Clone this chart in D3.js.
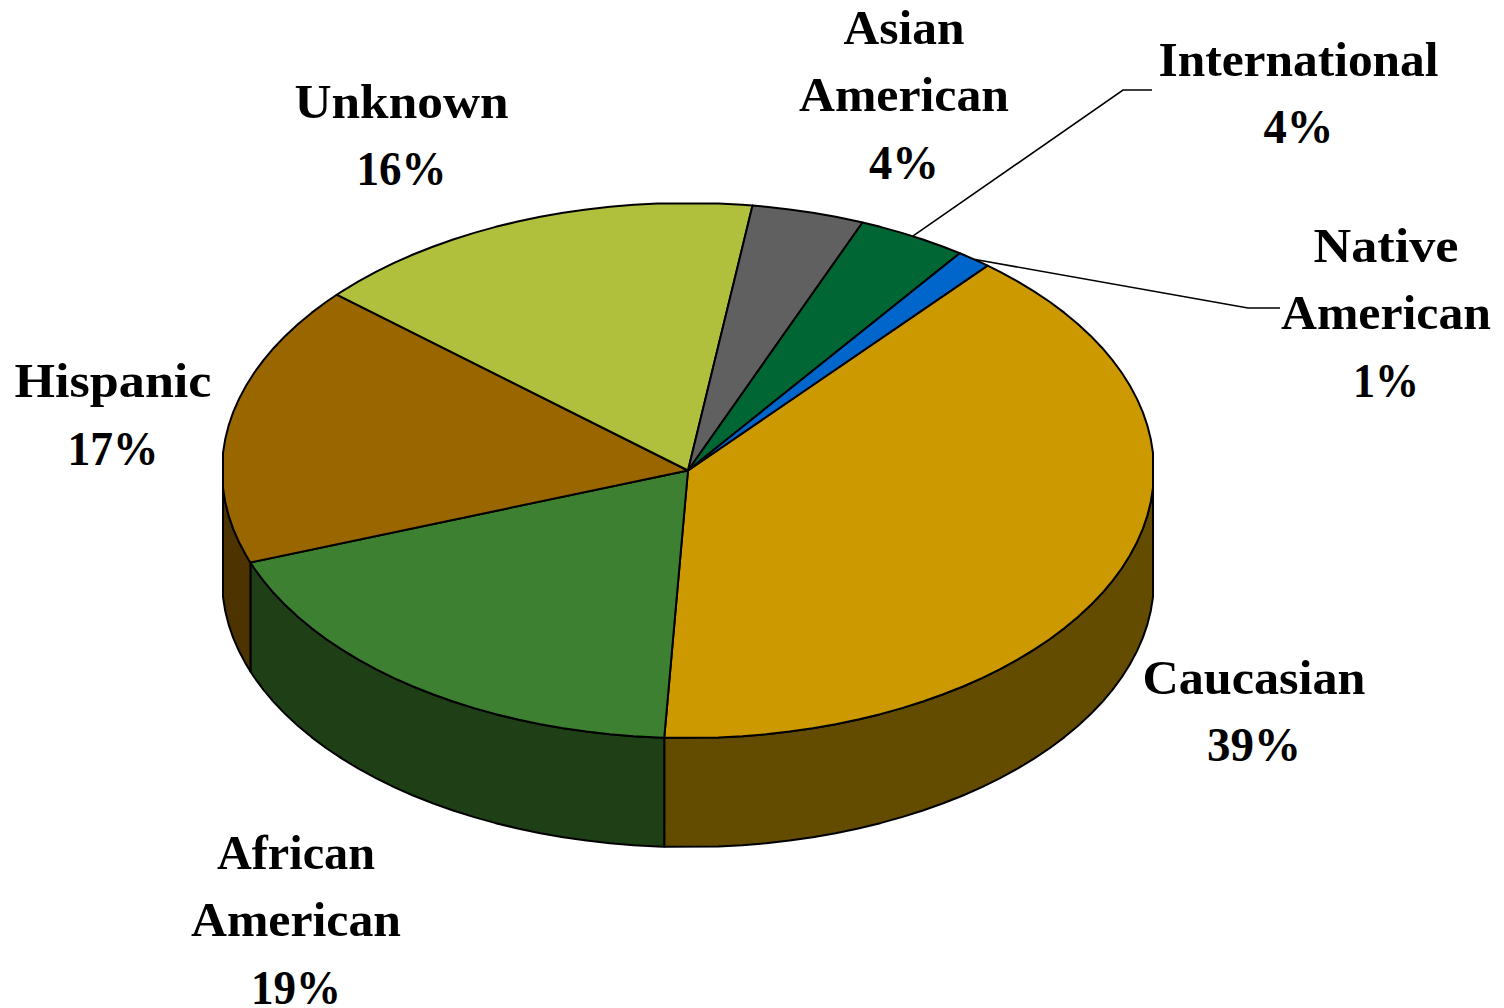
<!DOCTYPE html>
<html>
<head>
<meta charset="utf-8">
<script src="https://cdnjs.cloudflare.com/ajax/libs/d3/7.8.5/d3.min.js"></script>
<style>html,body{margin:0;padding:0;background:#fff}svg{display:block}</style>
</head>
<body>
<svg id="chart" width="1504" height="1008"></svg>
<script>
// Data
const categories = ["Caucasian","African American","Hispanic","Unknown","Asian American","International","Native American"];
const shares = [39.7,18.6,17.0,15.8,3.9,3.8,1.2];
const percentLabels = ["39%","19%","17%","16%","4%","4%","1%"];
const labelLines = [["Caucasian"],["African","American"],["Hispanic"],["Unknown"],["Asian","American"],["International"],["Native","American"]];
const topColors = ["#CC9900","#3D8032","#996600","#B0BF3C","#606060","#006633","#0066CC"];
const wallColors = ["#634C00","#1F4016","#4D3300","#58601E","#303030","#00331A","#003366"];

// Layout
const cx = 688, cy = 470.5, rx = 466, ry = 267.5, depth = 109;
const startDeg = 40, flatDeg = 3.75, stepDeg = 3;
const labelX = [1254,296,113,401.5,904,1298.5,1386];
const labelY = [693.5,868.5,397,117.5,43.5,75.5,261.5];
const lineGap = 67.5;
const lineWidths = [[223,94],[158,210,90],[197,91],[214,90],[121,210,70],[280,70],[145,210,66]];
const leaderElbows = {5:[[1123,90],[1152,90]],6:[[1248,308],[1280,308]]};

const svg = d3.select("#chart");
const rad = Math.PI/180;
const pie = d3.pie().sort(null).value(d=>d)
  .startAngle(startDeg*rad).endAngle((startDeg+360)*rad);
const arcs = pie(shares);

const sx = d3.scaleLinear().domain([-1,1]).range([cx-rx,cx+rx]);
const sy = d3.scaleLinear().domain([-1,1]).range([cy-ry,cy+ry]);
const pt = (a,dy=0)=>[sx(Math.sin(a)),sy(-Math.cos(a))+dy];

// Rim vertices: fine steps, with flat runs at the four extremes of the ellipse
const rimGrid = [];
for(let q=0;q<8;q++){
  const base=q*90;
  for(let v=flatDeg;v<=90-flatDeg+1e-6;v+=(90-2*flatDeg)/Math.round((90-2*flatDeg)/stepDeg)) rimGrid.push((base+v)*rad);
}
const samples = (a0,a1)=>[a0,...rimGrid.filter(a=>a>a0+1e-6&&a<a1-1e-6).sort(d3.ascending),a1];
const line = d3.line().curve(d3.curveLinearClosed);

// Walls: only the front of the rim is visible
const wallFrom=(90+flatDeg)*rad, wallTo=(270-flatDeg)*rad;
const walls = [];
arcs.forEach((d,i)=>{
  [0,2*Math.PI].forEach(off=>{
    const a0=Math.max(d.startAngle-off,wallFrom), a1=Math.min(d.endAngle-off,wallTo);
    if(a1>a0) walls.push({i,a0,a1});
  });
});
svg.append("g").selectAll("path").data(walls).join("path")
  .attr("d",w=>{
    const s=samples(w.a0,w.a1);
    return line(s.map(a=>pt(a)).concat(s.slice().reverse().map(a=>pt(a,depth))));
  })
  .attr("fill",w=>wallColors[w.i]).attr("stroke","#000").attr("stroke-width",2).attr("stroke-linejoin","round");

// Top face
svg.append("g").selectAll("path").data(arcs).join("path")
  .attr("d",d=>line([[cx,cy]].concat(samples(d.startAngle,d.endAngle).map(a=>pt(a)))))
  .attr("fill",(d,i)=>topColors[i]).attr("stroke","#000").attr("stroke-width",2).attr("stroke-linejoin","round");

// Leader lines
const leader = d3.line();
Object.keys(leaderElbows).forEach(k=>{
  const d=arcs[+k], mid=(d.startAngle+d.endAngle)/2;
  svg.append("path").attr("d",leader([pt(mid)].concat(leaderElbows[k])))
    .attr("fill","none").attr("stroke","#000").attr("stroke-width",1.6);
});

// Labels
const labels = svg.append("g").attr("font-family","'Liberation Serif',serif").attr("font-weight","bold")
  .attr("font-size",49).attr("fill","#000").attr("text-anchor","middle");
categories.forEach((c,i)=>{
  labelLines[i].concat([percentLabels[i]]).forEach((t,j)=>{
    labels.append("text").attr("x",labelX[i]).attr("y",labelY[i]+j*lineGap)
      .attr("textLength",lineWidths[i][j]).attr("lengthAdjust","spacingAndGlyphs").text(t);
  });
});
</script>
</body>
</html>
